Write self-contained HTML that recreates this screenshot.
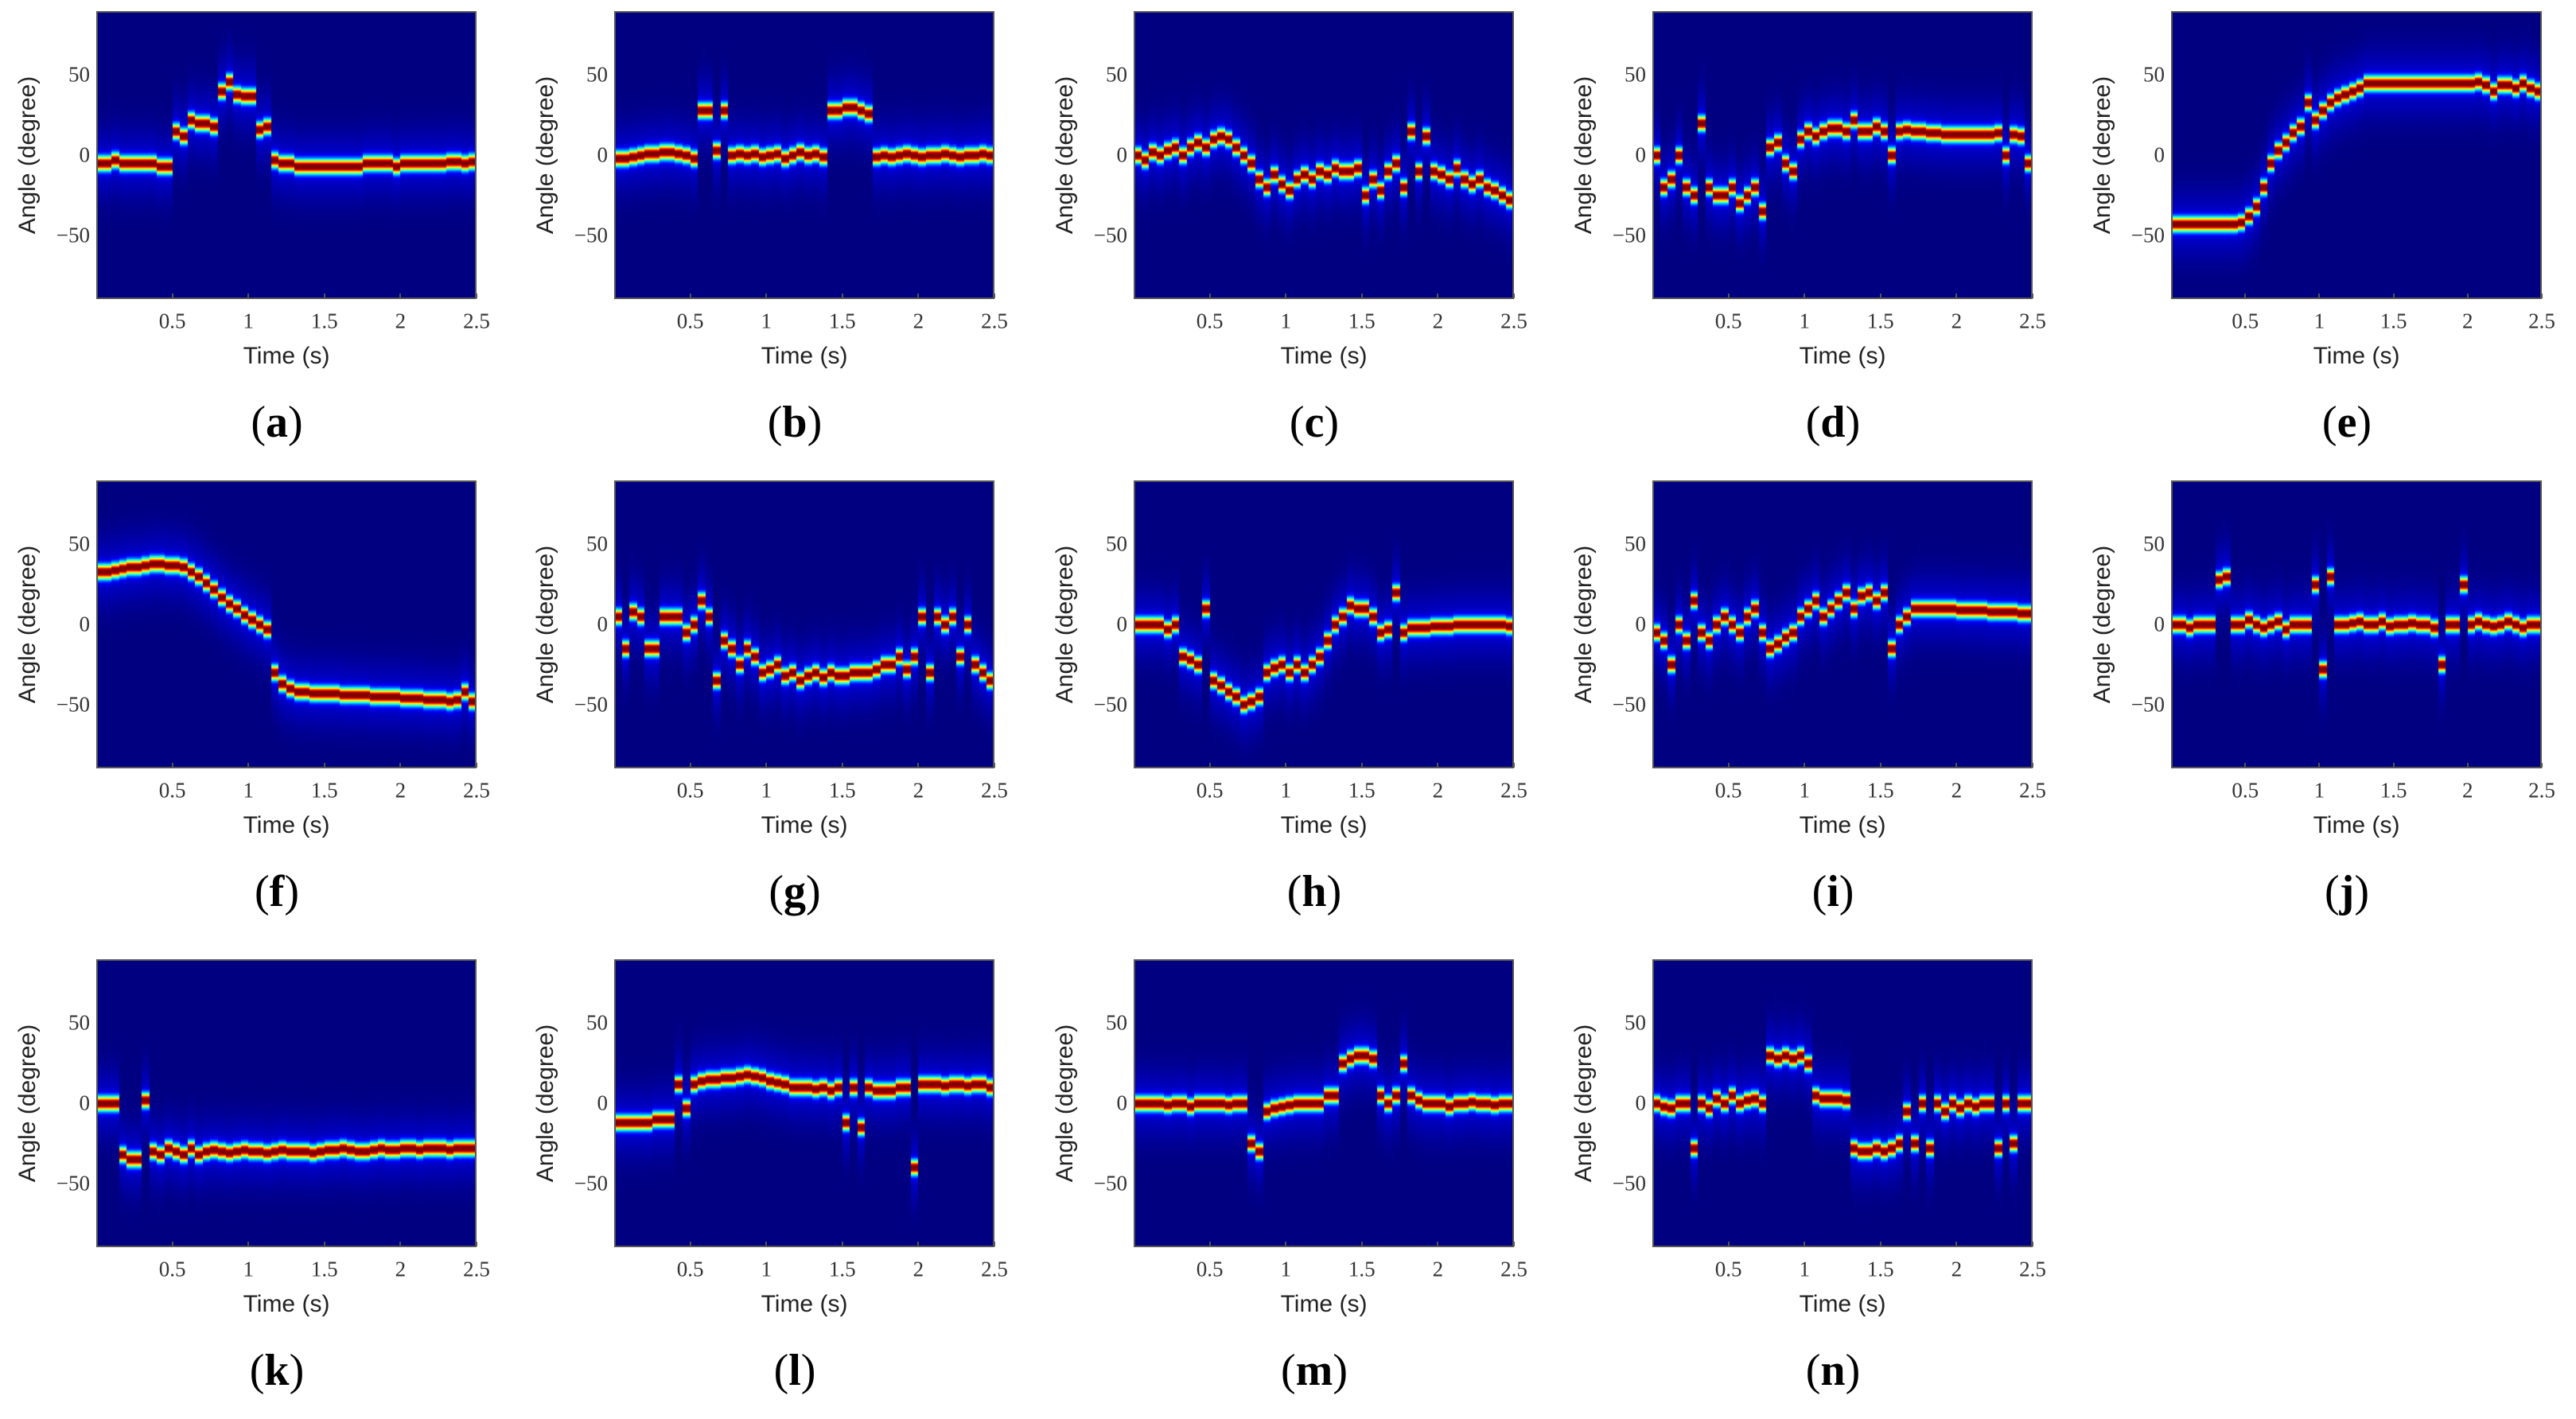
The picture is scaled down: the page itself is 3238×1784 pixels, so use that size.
<!DOCTYPE html>
<html><head><meta charset="utf-8">
<style>
body{margin:0;background:#fff;width:3238px;height:1784px;position:relative;overflow:hidden;font-family:"Liberation Sans",sans-serif;}
.panel{position:absolute;}
canvas{position:absolute;display:block;}
.frame{position:absolute;border:2px solid #555;box-sizing:border-box;}
.tick{position:absolute;font-family:"Liberation Serif",serif;font-size:27px;color:#333;white-space:nowrap;}
.xt{transform:translate(-50%,-50%);}
.yt{transform:translate(-100%,-50%);}
.xlab{position:absolute;font-size:30px;color:#222;transform:translate(-50%,-50%);white-space:nowrap;}
.ylab{position:absolute;font-size:30px;color:#222;transform:translate(-50%,-50%) rotate(-90deg);white-space:nowrap;}
.plab{position:absolute;font-family:"Liberation Serif",serif;font-size:56px;color:#000;transform:translate(-50%,-50%);white-space:nowrap;}
.tm{position:absolute;background:#555;}
</style></head>
<body>
<script>
const letters=['a','b','c','d','e','f','g','h','i','j','k','l','m','n'];
const xTicks=[0.5,1,1.5,2,2.5];
const xTickLabels=['0.5','1','1.5','2','2.5'];
const yTicks=[50,0,-50];
const yTickLabels=['50','0','\u221250'];
const angleA=[-5,-5,-3,-5,-5,-5,-5,-5,-7,-7,15,12,22,20,20,18,40,46,38,37,37,16,18,-3,-5,-5,-7,-7,-7,-7,-7,-7,-7,-7,-7,-5,-5,-5,-5,-7,-5,-5,-5,-5,-5,-5,-4,-4,-5,-4];
const angleB=[-2,-2,-1,0,1,1,2,2,1,0,-2,28,28,3,28,0,1,0,1,-1,0,1,-2,0,2,0,1,-1,28,28,30,30,28,26,-1,0,-1,0,1,0,-1,0,0,1,0,-1,0,0,1,0];
const angleC=[0,-3,2,0,3,5,0,5,8,5,10,12,10,5,0,-5,-15,-20,-12,-18,-22,-15,-12,-15,-10,-12,-8,-10,-10,-8,-25,-15,-22,-10,-5,-20,15,-10,12,-10,-12,-15,-8,-15,-18,-15,-20,-22,-25,-28];
const angleD=[0,-20,-15,0,-20,-25,20,-20,-25,-25,-20,-30,-25,-20,-35,5,8,-5,-10,10,15,12,15,17,17,15,22,15,15,18,15,0,15,16,15,15,14,14,13,13,13,13,13,13,13,14,0,13,12,-5];
const angleE=[-43,-43,-43,-43,-43,-43,-43,-43,-43,-42,-38,-32,-20,-5,3,8,14,18,33,22,28,33,36,38,40,42,45,45,45,45,45,45,45,45,45,45,45,45,45,45,45,46,44,40,44,44,42,45,42,40];
const angleF=[33,33,34,35,36,36,37,38,38,37,37,36,33,30,26,22,17,13,10,6,3,0,-3,-30,-37,-40,-42,-42,-43,-43,-43,-43,-44,-44,-44,-44,-45,-45,-45,-45,-46,-46,-46,-47,-47,-47,-48,-47,-42,-48];
const angleG=[5,-15,8,5,-15,-15,5,5,5,-5,0,15,5,-35,-10,-15,-25,-15,-20,-30,-28,-25,-32,-30,-35,-32,-30,-33,-30,-32,-32,-30,-30,-30,-28,-25,-25,-20,-28,-20,5,-30,5,0,5,-20,0,-25,-30,-35];
const angleH=[0,0,0,0,-3,0,-20,-22,-25,10,-35,-38,-42,-45,-50,-48,-45,-30,-27,-25,-30,-25,-30,-25,-20,-10,0,5,12,10,10,5,-5,-3,20,-5,-2,-2,-2,-1,-1,-1,0,0,0,0,0,0,0,-1];
const angleI=[-5,-10,-25,0,-10,15,-5,-10,0,5,0,-5,5,10,-5,-15,-12,-8,-5,5,10,15,5,10,15,20,10,18,20,15,20,-15,0,5,10,10,10,10,10,10,9,9,9,9,8,8,8,8,7,7];
const angleJ=[0,0,-2,0,0,0,28,30,0,0,3,0,-2,0,2,-3,0,0,0,25,-28,30,0,0,1,2,0,0,2,-1,0,0,1,0,0,-2,-25,0,0,25,0,2,0,-1,0,2,0,-2,0,0];
const angleK=[0,0,0,-32,-35,-35,2,-30,-32,-28,-30,-32,-28,-32,-30,-29,-30,-31,-30,-29,-30,-30,-31,-30,-29,-30,-30,-30,-31,-30,-29,-29,-28,-29,-30,-30,-29,-28,-29,-29,-28,-28,-29,-28,-28,-28,-29,-28,-28,-28];
const angleL=[-12,-12,-12,-12,-12,-10,-10,-10,12,-3,12,14,15,15,16,16,17,18,17,16,14,13,12,10,10,10,9,10,8,10,-12,10,-15,10,8,8,8,10,10,-40,12,12,12,11,12,12,11,12,12,10];
const angleM=[0,0,0,0,-1,0,0,-2,0,0,0,0,-1,0,0,-25,-30,-5,-3,-2,-1,0,0,0,0,5,5,25,28,30,30,28,5,0,5,25,5,2,0,0,0,-2,0,0,1,0,0,-1,0,0];
const angleN=[0,-2,-3,0,0,-28,0,-3,3,0,5,0,2,3,0,30,28,30,28,30,25,5,3,3,3,2,-28,-30,-30,-28,-30,-28,-25,-5,-25,0,-28,0,-5,0,-3,0,-2,0,0,-28,0,-25,0,0];
const series=[angleA,angleB,angleC,angleD,angleE,angleF,angleG,angleH,angleI,angleJ,angleK,angleL,angleM,angleN];

const colLeft=[121,772,1425,2077,2729];
const colW=[478,478,478,478,466];
const rowTop=[14,604,1206];
const PH=362;
const T0=0,T1=2.5,Y0=-90,Y1=90;

function jet(v){
  const r=Math.min(Math.max(Math.min(4*v-1.5,-4*v+4.5),0),1);
  const g=Math.min(Math.max(Math.min(4*v-0.5,-4*v+3.5),0),1);
  const b=Math.min(Math.max(Math.min(4*v+0.5,-4*v+2.5),0),1);
  return [r*255,g*255,b*255];
}

series.forEach((vals,k)=>{
  const row=Math.floor(k/5),col=k%5;
  const L=colLeft[col],T=rowTop[row],W=colW[col];
  const xs=t=>L+(t-T0)/(T1-T0)*W;
  const ys=a=>T+(Y1-a)/(Y1-Y0)*PH;
  const p=document.createElement('div');
  p.className='panel';
  
  
  document.body.appendChild(p);
  const cv=document.createElement('canvas');
  cv.width=W;cv.height=PH;cv.style.left=L+'px';cv.style.top=T+'px';
  
  
  p.appendChild(cv);
  const ctx=cv.getContext('2d');
  const img=ctx.createImageData(W,PH);
  const n=vals.length,dt=(T1-T0)/n;
  for(let x=0;x<W;x++){
    const t=T0+(x+0.5)/W*(T1-T0);
    const i=Math.min(n-1,Math.floor((t-T0)/dt));
    const c=vals[i];
    const cy=ys(c)-T;
    for(let y=0;y<PH;y++){
      const d=(y-cy)/(PH/(Y1-Y0));
      let v=Math.exp(-d*d/(2*3*3))+0.08*Math.exp(-d*d/(2*15*15));
      v=Math.min(1,v);
      const cc=jet(v);
      const o=(y*W+x)*4;
      img.data[o]=cc[0];img.data[o+1]=cc[1];img.data[o+2]=cc[2];img.data[o+3]=255;
    }
  }
  ctx.putImageData(img,0,0);
  const fr=document.createElement('div');
  fr.className='frame';
  fr.style.cssText+=`left:${L}px;top:${T}px;width:${W}px;height:${PH}px;`;
  
  
  p.appendChild(fr);
  xTicks.forEach((tv,j)=>{
    const e=document.createElement('div');
    e.className='tick xt';e.textContent=xTickLabels[j];
    e.style.left=xs(tv)+'px';e.style.top=(T+PH+28)+'px';
    
    
    p.appendChild(e);
    const m=document.createElement('div');
    m.className='tm';m.style.cssText+=`left:${xs(tv)-1}px;top:${T+PH-7}px;width:2px;height:6px;`;
    
    
    p.appendChild(m);
  });
  yTicks.forEach((av,j)=>{
    const e=document.createElement('div');
    e.className='tick yt';e.textContent=yTickLabels[j];
    e.style.left=(L-8)+'px';e.style.top=ys(av)+'px';
    
    
    p.appendChild(e);
  });
  const xl=document.createElement('div');
  xl.className='xlab';xl.textContent='Time (s)';
  xl.style.left=(L+W/2)+'px';xl.style.top=(T+PH+72)+'px';
  
  
  p.appendChild(xl);
  const yl=document.createElement('div');
  yl.className='ylab';yl.textContent='Angle (degree)';
  yl.style.left=(L-86)+'px';yl.style.top=(T+PH/2)+'px';
  
  
  p.appendChild(yl);
  const pl=document.createElement('div');
  pl.className='plab';pl.innerHTML='(<b>'+letters[k]+'</b>)';
  pl.style.left=(L+W/2-12)+'px';pl.style.top=(T+PH+155)+'px';
  
  
  p.appendChild(pl);
});
</script>
</body></html>
